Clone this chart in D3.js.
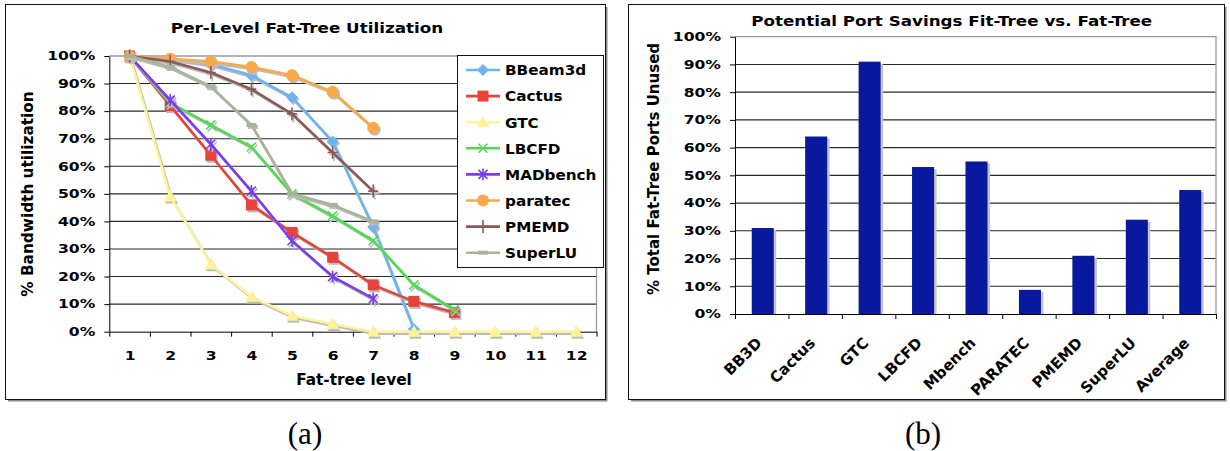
<!DOCTYPE html>
<html><head><meta charset="utf-8">
<script src="https://cdn.jsdelivr.net/npm/d3@7"></script>
<style>
html,body{margin:0;padding:0;background:#fff;}
svg{display:block;}
text{font-family:"DejaVu Sans",Verdana,sans-serif;font-weight:bold;fill:#000;}
</style></head><body>
<svg id="fig" width="1230" height="451"></svg>
<script>
// ---- (a) per-level bandwidth utilization (%) by fat-tree level ----
const levels = [1, 2, 3, 4, 5, 6, 7, 8, 9, 10, 11, 12];
const bbeam3d  = [100, 99, 97, 93, 85, 69, 38, 1];
const cactus   = [100, 82, 64, 46, 36, 27, 17, 11, 7];
const gtc      = [100, 49, 24.5, 12.7, 5.8, 2.8, 0, 0, 0, 0, 0, 0];
const lbcfd    = [100, 83, 75, 67, 50, 42, 33, 17, 8];
const madbench = [100, 84, 68, 51, 33, 20, 12];
const paratec  = [100, 99, 98, 96, 93, 87, 74];
const pmemd    = [100, 98, 94, 88, 79, 65, 51];
const superlu  = [100, 96, 89, 75, 50, 46, 40];
const seriesNames = ["BBeam3d", "Cactus", "GTC", "LBCFD", "MADbench", "paratec", "PMEMD", "SuperLU"];
const pctTicks = [0, 10, 20, 30, 40, 50, 60, 70, 80, 90, 100];

// ---- (b) share of fat-tree ports left unused by a fit-tree (%) ----
const apps = ["BB3D", "Cactus", "GTC", "LBCFD", "Mbench", "PARATEC", "PMEMD", "SuperLU", "Average"];
const unusedPorts = [31, 64, 91, 53, 55, 8.7, 21, 34, 44.7];

const seriesValues = [bbeam3d, cactus, gtc, lbcfd, madbench, paratec, pmemd, superlu];
const seriesStyle = [
  {color: "#6cb4f4", marker: "diamond"},
  {color: "#e8423b", marker: "square"},
  {color: "#fff29a", marker: "triangle"},
  {color: "#52d952", marker: "cross"},
  {color: "#7a3cf2", marker: "asterisk"},
  {color: "#f8a94a", marker: "circle"},
  {color: "#8c5858", marker: "plus"},
  {color: "#a6b599", marker: "dash"}
];
const SHADOW = "#bcbcbc";

const svg = d3.select("#fig");
svg.append("rect").attr("width", 1230).attr("height", 451).attr("fill", "#fff");

// panel frames with a soft drop shadow on the right/bottom
function frame(x0, y0, x1, y1) {
  svg.append("path")
    .attr("d", `M${x1 + 1.5},${y0 + 3}V${y1 + 1.5}H${x0 + 3}`)
    .attr("fill", "none").attr("stroke", "#8a8a8a").attr("stroke-width", 2);
  svg.append("rect").attr("x", x0 + 0.5).attr("y", y0 + 0.5)
    .attr("width", x1 - x0).attr("height", y1 - y0)
    .attr("fill", "none").attr("stroke", "#111").attr("stroke-width", 1);
}
frame(5, 4, 605, 399);
frame(628, 4, 1224, 399);

// horizontally stretched label helper
function label(x, y, str, size, sx, anchor) {
  return svg.append("text")
    .attr("transform", `translate(${x},${y}) scale(${sx},1)`)
    .attr("text-anchor", anchor || "middle")
    .style("font-size", size + "px")
    .text(str);
}

// marker shapes
function marker(g, type, x, y, color) {
  const m = g.append("g").attr("transform", `translate(${x},${y})`);
  switch (type) {
    case "diamond":
      m.append("path").attr("d", "M0,-6L6,0L0,6L-6,0Z").attr("fill", color); break;
    case "square":
      m.append("rect").attr("x", -5.5).attr("y", -5.5).attr("width", 11).attr("height", 11).attr("fill", color); break;
    case "triangle":
      m.append("path").attr("d", "M0,-6.5L6.5,5L-6.5,5Z").attr("fill", color); break;
    case "circle":
      m.append("circle").attr("r", 6).attr("fill", color); break;
    case "cross":
      m.append("path").attr("d", "M-4.5,-4.5L4.5,4.5M-4.5,4.5L4.5,-4.5")
        .attr("stroke", color).attr("stroke-width", 1.6).attr("fill", "none"); break;
    case "asterisk":
      m.append("path").attr("d", "M-4.5,-4.5L4.5,4.5M-4.5,4.5L4.5,-4.5M0,-6L0,6")
        .attr("stroke", color).attr("stroke-width", 1.6).attr("fill", "none"); break;
    case "plus":
      m.append("path").attr("d", "M0,-6.5L0,6.5M-5,0L5,0")
        .attr("stroke", color).attr("stroke-width", 1.6).attr("fill", "none"); break;
    case "dash":
      m.append("rect").attr("x", -5).attr("y", -2).attr("width", 10).attr("height", 4).attr("fill", color); break;
  }
}

// ================= (a) line chart =================
const L = {left: 109.3, right: 596.5, top: 56, bottom: 331.7};
const xL = d3.scalePoint().domain(levels).range([L.left, L.right]).padding(0.5);
const xEdgeL = d3.scaleLinear().domain([0.5, levels.length + 0.5]).range([L.left, L.right]);
const yL = d3.scaleLinear().domain([0, 100]).range([L.bottom, L.top]);

const gA = svg.append("g");
// gridlines
gA.selectAll("line.grid").data(pctTicks.filter(d => d > 0 && d < 100)).join("line")
  .attr("x1", L.left).attr("x2", L.right)
  .attr("y1", d => yL(d)).attr("y2", d => yL(d))
  .attr("stroke", "#2a2a2a").attr("stroke-width", 1.1);
// plot-area border (top and right)
gA.append("path").attr("d", `M${L.left},${yL(100)}H${L.right}V${L.bottom}`)
  .attr("fill", "none").attr("stroke", "#9a9a9a").attr("stroke-width", 1.3);

// y axis
const yAxisA = gA.append("g").attr("transform", `translate(${L.left},0)`)
  .call(d3.axisLeft(yL).tickValues(pctTicks).tickSize(5).tickSizeOuter(0).tickFormat(d => d + "%"));
yAxisA.selectAll("text").attr("x", -14 / 1.3).attr("transform", "scale(1.3,1)").style("font-size", "12px");
// x axis: tick marks at level boundaries, labels at level centers
gA.append("g").attr("transform", `translate(0,${L.bottom})`)
  .call(d3.axisBottom(xEdgeL).tickValues(d3.range(0.5, levels.length + 1, 1)).tickSize(5).tickSizeOuter(0).tickFormat(""));
const xLabA = gA.append("g").attr("transform", `translate(0,${L.bottom})`)
  .call(d3.axisBottom(xL).tickSize(0).tickFormat(d => d));
xLabA.select(".domain").remove();
xLabA.selectAll("text").attr("y", 19).attr("transform", "scale(1.25,1)").style("font-size", "12.5px")
  .each(function () { const t = d3.select(this); t.attr("x", 0); });
xLabA.selectAll(".tick").each(function (d) {
  d3.select(this).select("text").attr("transform", "scale(1.25,1)");
});
[yAxisA].forEach(a => a.selectAll("path.domain, line").attr("stroke", "#000"));

// series lines with drop shadows
const lineA = d3.line().x((d, i) => xL(levels[i])).y(d => yL(d));
seriesValues.forEach((vals, si) => {
  const st = seriesStyle[si];
  const g = gA.append("g");
  const sh = g.append("g").attr("transform", "translate(1.5,2)");
  sh.append("path").attr("d", lineA(vals)).attr("fill", "none")
    .attr("stroke", SHADOW).attr("stroke-width", 2.6).attr("stroke-linejoin", "round");
  vals.forEach((v, i) => marker(sh, st.marker, xL(levels[i]), yL(v), SHADOW));
  g.append("path").attr("d", lineA(vals)).attr("fill", "none")
    .attr("stroke", st.color).attr("stroke-width", 2.6).attr("stroke-linejoin", "round");
  vals.forEach((v, i) => marker(g, st.marker, xL(levels[i]), yL(v), st.color));
});

// legend
const lg = gA.append("g");
lg.append("rect").attr("x", 457.5).attr("y", 55.5).attr("width", 146).attr("height", 212)
  .attr("fill", "#fff").attr("stroke", "#111").attr("stroke-width", 1);
seriesNames.forEach((name, i) => {
  const y = 70 + i * 26.1;
  const st = seriesStyle[i];
  lg.append("line").attr("x1", 466).attr("x2", 500).attr("y1", y).attr("y2", y)
    .attr("stroke", st.color).attr("stroke-width", 2.6);
  marker(lg, st.marker, 483, y, st.color);
  lg.append("text").attr("transform", `translate(505,${y + 5.3}) scale(1.05,1)`)
    .style("font-size", "14.5px").text(name);
});

// titles
label(307, 33, "Per-Level Fat-Tree Utilization", 13.3, 1.26);
label(354, 385, "Fat-tree level", 15, 1.02);
svg.append("text").attr("transform", "translate(33,194) rotate(-90)")
  .attr("text-anchor", "middle").style("font-size", "15.3px").text("% Bandwidth utilization");

// ================= (b) bar chart =================
const R = {left: 735, right: 1216, top: 36.7, bottom: 314};
const xR = d3.scaleBand().domain(apps).range([R.left, R.right]).paddingInner(0.588).paddingOuter(0.294);
const xEdgeR = d3.scaleLinear().domain([0, apps.length]).range([R.left, R.right]);
const yR = d3.scaleLinear().domain([0, 100]).range([R.bottom, R.top]);

const gB = svg.append("g");
gB.selectAll("line.grid").data(pctTicks.filter(d => d > 0 && d < 100)).join("line")
  .attr("x1", R.left).attr("x2", R.right)
  .attr("y1", d => yR(d)).attr("y2", d => yR(d))
  .attr("stroke", "#2a2a2a").attr("stroke-width", 1.1);
gB.append("path").attr("d", `M${R.left},${yR(100)}H${R.right}V${R.bottom}`)
  .attr("fill", "none").attr("stroke", "#9a9a9a").attr("stroke-width", 1.3);

// bar shadows, then bars
gB.selectAll("rect.shadow").data(unusedPorts).join("rect")
  .attr("x", (d, i) => xR(apps[i]) + 3.5).attr("y", d => yR(d) + 2)
  .attr("width", xR.bandwidth()).attr("height", d => R.bottom - yR(d) - 2)
  .attr("fill", "#c4c4c4");
gB.selectAll("rect.bar").data(unusedPorts).join("rect")
  .attr("x", (d, i) => xR(apps[i]) + 1).attr("y", d => yR(d))
  .attr("width", xR.bandwidth()).attr("height", d => R.bottom - yR(d))
  .attr("fill", "#08199d");

const yAxisB = gB.append("g").attr("transform", `translate(${R.left},0)`)
  .call(d3.axisLeft(yR).tickValues(pctTicks).tickSize(5).tickSizeOuter(0).tickFormat(d => d + "%"));
yAxisB.selectAll("text").attr("x", -14 / 1.3).attr("transform", "scale(1.3,1)").style("font-size", "12px");
gB.append("g").attr("transform", `translate(0,${R.bottom})`)
  .call(d3.axisBottom(xEdgeR).tickValues(d3.range(0, apps.length + 1)).tickSize(5).tickSizeOuter(0).tickFormat(""));
const xLabB = gB.append("g").attr("transform", `translate(0,${R.bottom})`)
  .call(d3.axisBottom(xR).tickSize(0));
xLabB.select(".domain").remove();
xLabB.selectAll("text").attr("x", 0).attr("y", 0).attr("dy", 0)
  .attr("text-anchor", "end").attr("transform", "translate(1,30) rotate(-45)")
  .style("font-size", "15px");

label(951.7, 25.7, "Potential Port Savings Fit-Tree vs. Fat-Tree", 13.3, 1.26);
svg.append("text").attr("transform", "translate(659,169) rotate(-90)")
  .attr("text-anchor", "middle").style("font-size", "15px").text("% Total Fat-Tree Ports Unused");

// sub-figure captions
svg.selectAll("text.cap").data(["(a)", "(b)"]).join("text")
  .attr("x", (d, i) => i === 0 ? 305 : 923).attr("y", 444)
  .attr("text-anchor", "middle")
  .style("font-family", "'Liberation Serif','DejaVu Serif',serif")
  .style("font-weight", "normal").style("font-size", "31px")
  .text(d => d);
</script>
</body></html>
